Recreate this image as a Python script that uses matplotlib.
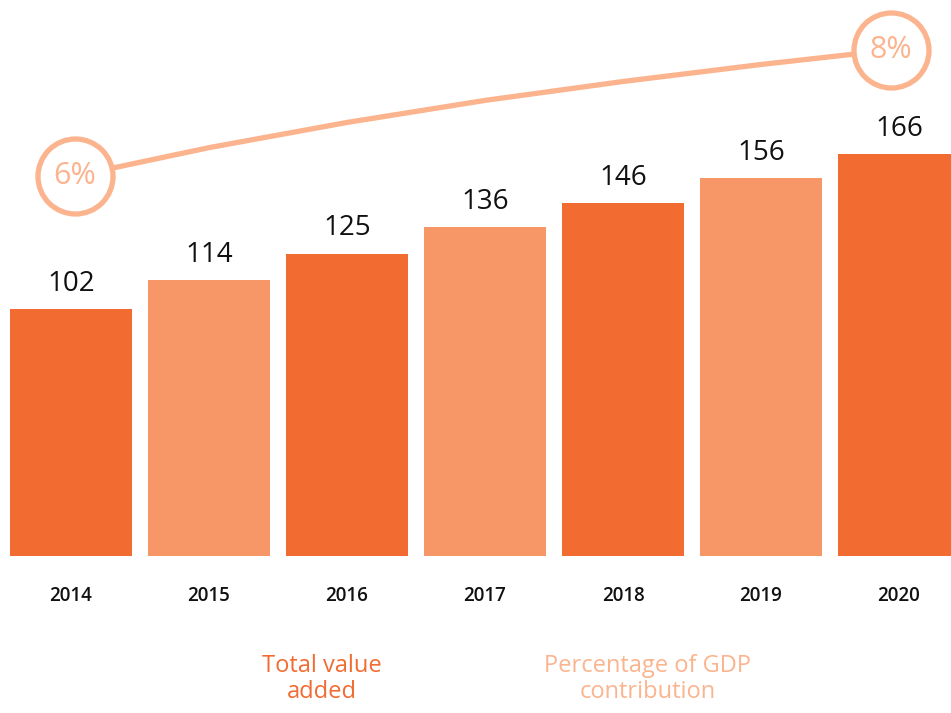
import matplotlib.pyplot as plt

years = ["2014", "2015", "2016", "2017", "2018", "2019", "2020"]
value_added = [102, 114, 125, 136, 146, 156, 166]
gdp_share = [6.0, 6.45, 6.85, 7.2, 7.5, 7.77, 8.0]

dark = "#F26C32"
light = "#F79767"
line_col = "#FBB48E"

plt.rcParams['font.family'] = ['Open Sans', 'DejaVu Sans']

fig = plt.figure(figsize=(9.51, 7.13), dpi=100)
ax = fig.add_axes([0, 0, 1, 1])
ax.axis('off')

# pixel layout: bar centres at 71 + 138*i, baseline at y=556px
px_w, px_h = 951, 713
step = 138.0
ax.set_xlim(-71 / step, (px_w - 71) / step)
scale = 2.42
ax.set_ylim(-(px_h - 556) / scale, 556 / scale)

xs = list(range(len(years)))
cols = [dark if i % 2 == 0 else light for i in xs]
ax.bar(xs, value_added, width=122 / step, color=cols, zorder=2)

for i, v in zip(xs, value_added):
    ax.annotate(str(v), (i, v), xytext=(0, 8), textcoords='offset points',
                ha='center', va='bottom', fontsize=20, color='#111111')
    ax.text(i, -40 / scale, years[i], ha='center', va='center',
            fontsize=13.5, fontweight='semibold', color='#111111')

# secondary axis for percentage line
ax2 = fig.add_axes([0, 0, 1, 1], sharex=ax)
ax2.axis('off')
# 6% at y=176px, 8% at y=50px
ppp = 63.0
y6 = 176
ax2.set_ylim(6 - (px_h - y6) / ppp, 6 + y6 / ppp)
line_x = list(xs)
line_x[0] += 4 / step
line_x[-1] -= 8 / step
ax2.plot(line_x, gdp_share, color=line_col, lw=3.8, solid_capstyle='round', zorder=3)
for i in (0, len(xs) - 1):
    ax2.plot(line_x[i], gdp_share[i], 'o', ms=54, mfc='white', mec=line_col, mew=3.8, zorder=4)
    ax2.text(line_x[i], gdp_share[i], f"{gdp_share[i]:.0f}%", ha='center', va='center',
             fontsize=22, color=line_col, zorder=5)

fig.text(322 / px_w, 1 - 679 / px_h, "Total value\nadded", ha='center', va='center',
         fontsize=17, color=dark, linespacing=1.1)
fig.text(648 / px_w, 1 - 679 / px_h, "Percentage of GDP\ncontribution", ha='center',
         va='center', fontsize=17, color=line_col, linespacing=1.1)

fig.savefig('out.png', dpi=100)
